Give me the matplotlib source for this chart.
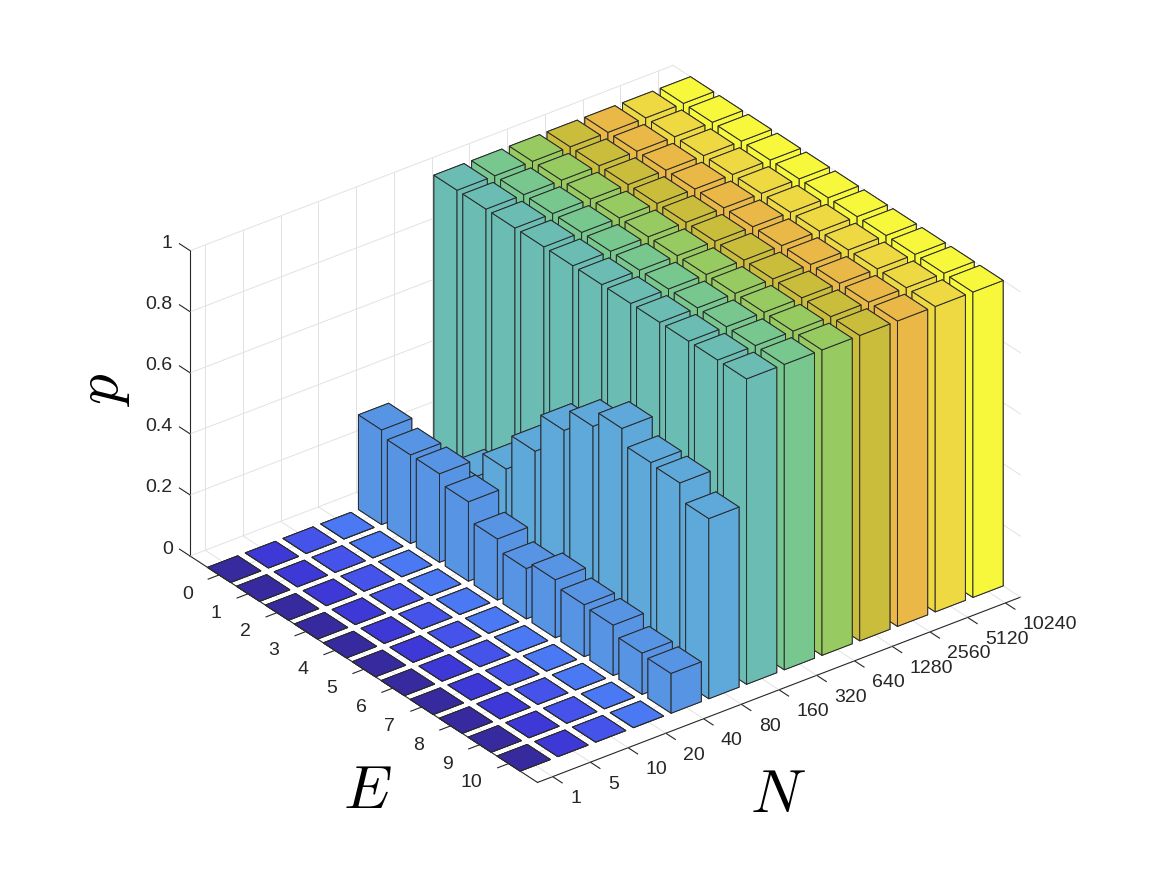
import matplotlib
matplotlib.use('Agg')
import matplotlib.pyplot as plt
import numpy as np
from mpl_toolkits.mplot3d import proj3d

# categories
N_labels = ['1', '5', '10', '20', '40', '80', '160', '320', '640', '1280', '2560', '5120', '10240']
E_labels = ['0', '1', '2', '3', '4', '5', '6', '7', '8', '9', '10']
z_labels = ['0', '0.2', '0.4', '0.6', '0.8', '1']
z_ticks = [0, 0.2, 0.4, 0.6, 0.8, 1]

# p values, one list per N, indexed by E = 0..10
p_N1 = [0, 0, 0, 0, 0, 0, 0, 0, 0, 0, 0]
p_N5 = [0, 0, 0, 0, 0, 0, 0, 0, 0, 0, 0]
p_N10 = [0, 0, 0, 0, 0, 0, 0, 0, 0, 0, 0]
p_N20 = [0, 0, 0, 0, 0, 0, 0, 0, 0, 0, 0]
p_N40 = [0.31, 0.29, 0.29, 0.26, 0.20, 0.165, 0.19, 0.17, 0.165, 0.135, 0.13]
p_N80 = [0.07, 0.13, 0.235, 0.32, 0.44, 0.57, 0.645, 0.70, 0.65, 0.645, 0.59]
p_N160 = [1, 1, 1, 1, 1, 1, 1, 1, 1, 1, 1]
p_N320 = [1, 1, 1, 1, 1, 1, 1, 1, 1, 1, 1]
p_N640 = [1, 1, 1, 1, 1, 1, 1, 1, 1, 1, 1]
p_N1280 = [1, 1, 1, 1, 1, 1, 1, 1, 1, 1, 1]
p_N2560 = [1, 1, 1, 1, 1, 1, 1, 1, 1, 1, 1]
p_N5120 = [1, 1, 1, 1, 1, 1, 1, 1, 1, 1, 1]
p_N10240 = [1, 1, 1, 1, 1, 1, 1, 1, 1, 1, 1]

series = [p_N1, p_N5, p_N10, p_N20, p_N40, p_N80, p_N160, p_N320,
          p_N640, p_N1280, p_N2560, p_N5120, p_N10240]

# parula-like colours, one per N column
colors = ['#372a9e', '#3e39d6', '#4553ea', '#4a79f3', '#5894e4', '#5ea9d9',
          '#6bbdb4', '#77c78f', '#98ca62', '#cbbd3c', '#e9b846', '#eed943', '#f7f73b']

plt.rcParams['font.family'] = ['Liberation Sans', 'DejaVu Sans']
plt.rcParams['mathtext.fontset'] = 'cm'

fig = plt.figure(figsize=(11.66, 8.75), dpi=100)
ax = fig.add_axes([0.009, 0.002, 1, 1], projection='3d', proj_type='ortho',
                  computed_zorder=False)
ax.view_init(elev=30, azim=-127.5)

xmin, xmax = 0.6, 13.4
ymin, ymax = 0, 12
x_pos = list(range(1, 14))
y_pos = list(range(1, 12))
w = 0.8

# draw bars back to front (painter's order)
cells = []
for j, col in enumerate(series):
    for i, val in enumerate(col):
        closeness = -0.609 * (j + 1) + 0.793 * (i + 1)
        cells.append((closeness, j, i, val))
cells.sort()
for k, (c, j, i, val) in enumerate(cells):
    bars = ax.bar3d(j + 1 - w / 2, i + 1 - w / 2, 0, w, w, val, color=colors[j],
                    edgecolor='#2a2a2a', linewidth=0.7, shade=False)
    bars.set_zorder(10 + k)

ax.set_xlim(xmin, xmax)
ax.set_ylim(ymax, ymin)
ax.set_zlim(0, 1)
ax.set_box_aspect((12.8, 12, 7.415), zoom=1.005)
ax.set_xticks([])
ax.set_yticks([])
ax.set_zticks([])

for axis in (ax.xaxis, ax.yaxis, ax.zaxis):
    axis.set_pane_color((1, 1, 1, 0))
    axis.pane.set_edgecolor('none')
    axis.line.set_color('#262626')
    axis.line.set_linewidth(0.8)

# grid on the back walls and the floor
gc = '#e2e2e2'
glw = 0.7
for n in x_pos:
    ax.plot([n, n], [ymin, ymin], [0, 1], color=gc, lw=glw, zorder=1)
    ax.plot([n, n], [ymin, ymax], [0, 0], color=gc, lw=glw, zorder=1)
for m in y_pos:
    ax.plot([xmax, xmax], [m, m], [0, 1], color=gc, lw=glw, zorder=1)
    ax.plot([xmin, xmax], [m, m], [0, 0], color=gc, lw=glw, zorder=1)
for z in z_ticks:
    ax.plot([xmin, xmax], [ymin, ymin], [z, z], color=gc, lw=glw, zorder=1)
    ax.plot([xmax, xmax], [ymin, ymax], [z, z], color=gc, lw=glw, zorder=1)

tc = '#262626'
fs = 14
# tick marks, MATLAB style
for n in x_pos:
    ax.plot([n, n], [ymax, ymax + 0.33], [0, 0], color=tc, lw=0.8, zorder=5)
for m in y_pos:
    ax.plot([xmin, xmin - 0.29], [m, m], [0, 0], color=tc, lw=0.8, zorder=5)
for z in z_ticks:
    ax.plot([xmin, xmin], [ymin, ymin - 0.37], [z, z], color=tc, lw=0.8, zorder=5)

# tick labels: project the 3D anchor once, then place plain figure text
fig.canvas.draw()
W, H = fig.bbox.width, fig.bbox.height


def label_at(x, y, z, s, **kw):
    x2, y2, _ = proj3d.proj_transform(x, y, z, ax.M)
    px, py = ax.transData.transform((x2, y2))
    fig.text(px / W, py / H, s, fontsize=fs, color=tc, **kw)


for n, lab in zip(x_pos, N_labels):
    label_at(n, ymax + 0.6, -0.035, lab, ha='left', va='center')
for m, lab in zip(y_pos, E_labels):
    label_at(xmin - 0.7, m, -0.03, lab, ha='right', va='center')
for z, lab in zip(z_ticks, z_labels):
    label_at(xmin, ymin - 0.6, z - 0.014, lab, ha='right', va='center')

fig.text(367 / 1166, 1 - 792 / 875, '$E$', fontsize=44, ha='center', va='center')
fig.text(778 / 1166, 1 - 797 / 875, '$N$', fontsize=44, ha='center', va='center')
fig.text(103 / 1166, 1 - 390 / 875, '$p$', fontsize=44, ha='center', va='center', rotation=90)

fig.savefig('out.png', dpi=100)
